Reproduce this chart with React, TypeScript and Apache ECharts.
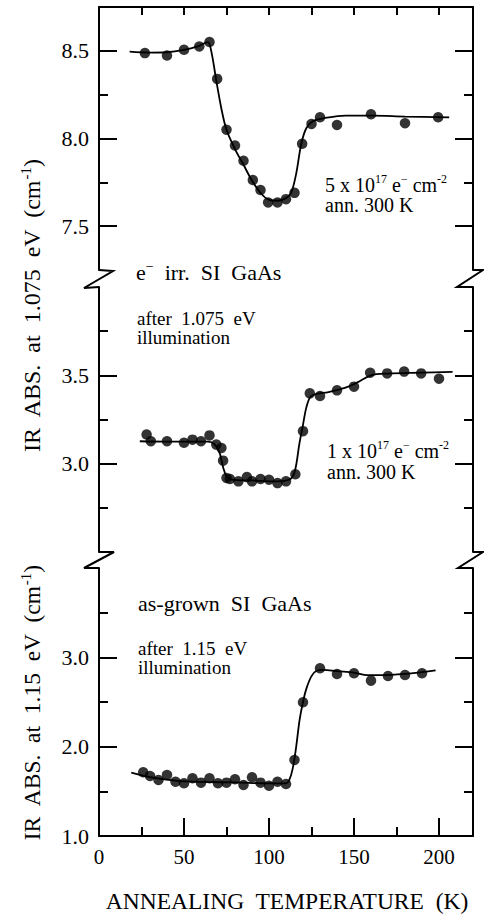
import React, { useEffect, useRef } from 'react';
import * as echarts from 'echarts';

const FONT = "'Liberation Serif', 'Times New Roman', Times, serif";

// ---- axis ticks ----
const xMajorTicks = [0, 50, 100, 150, 200];
const xMinorTicks = [25, 75, 125, 175];
const xTopTicks = [25, 50, 75, 100, 125, 150, 175, 200];

const p1LabelTicks = [7.5, 8.0, 8.5];
const p1MinorTicks = [7.75, 8.25];
const p2LabelTicks = [3.0, 3.5];
const p2MinorTicks = [2.75, 3.25, 3.75];
const p3LabelTicks = [1.0, 2.0, 3.0];
const p3MinorTicks = [1.5, 2.5, 3.5];

// ---- panel 1: e- irr. 5e17, after 1.075 eV (measured points) ----
const p1Temps = [27, 40, 50, 59, 65, 69.5, 75, 80, 85, 90.5, 95, 99.5, 105, 110, 115, 119.5, 125, 130, 140, 160, 180, 199.5];
const p1Values = [8.487, 8.473, 8.506, 8.525, 8.55, 8.34, 8.05, 7.96, 7.873, 7.763, 7.706, 7.635, 7.635, 7.654, 7.69, 7.97, 8.083, 8.121, 8.077, 8.138, 8.087, 8.121];
// fitted curve
const p1FitTemps = [18, 30, 40, 50, 58, 64, 66, 69, 72, 75, 80, 85, 90, 95, 100, 105, 110, 113, 116, 119, 122, 126, 132, 145, 160, 180, 206];
const p1FitValues = [8.495, 8.49, 8.492, 8.505, 8.525, 8.55, 8.5, 8.33, 8.17, 8.05, 7.94, 7.85, 7.76, 7.69, 7.65, 7.645, 7.66, 7.69, 7.8, 7.97, 8.06, 8.1, 8.115, 8.13, 8.13, 8.125, 8.12];

// ---- panel 2: e- irr. 1e17 ----
const p2Temps = [28, 30.5, 40, 50, 55, 60, 65, 69, 72, 73, 75, 77, 82, 87, 90, 95, 100, 105, 110, 115.5, 120, 124, 130, 140, 150, 159.5, 169.5, 179.5, 189.5, 200];
const p2Values = [3.165, 3.127, 3.127, 3.118, 3.136, 3.127, 3.16, 3.108, 3.089, 3.017, 2.919, 2.913, 2.9, 2.924, 2.9, 2.913, 2.909, 2.89, 2.9, 2.94, 3.184, 3.398, 3.383, 3.415, 3.436, 3.515, 3.511, 3.521, 3.511, 3.481];
const p2FitTemps = [24, 40, 55, 64, 68, 71, 73, 75, 78, 90, 105, 112, 115, 118, 120, 122, 124.5, 128, 135, 145, 152, 160, 170, 190, 208];
const p2FitValues = [3.127, 3.125, 3.125, 3.125, 3.11, 3.06, 2.98, 2.93, 2.91, 2.905, 2.9, 2.91, 2.95, 3.12, 3.22, 3.32, 3.38, 3.395, 3.405, 3.43, 3.46, 3.5, 3.51, 3.515, 3.52];

// ---- panel 3: as-grown, after 1.15 eV ----
const p3Temps = [26, 30, 35, 40, 45, 50, 55, 60, 65, 70, 75, 80, 85, 90, 95, 100, 105, 110, 115, 120, 130, 140, 150, 160, 170, 180, 190];
const p3Values = [1.713, 1.672, 1.627, 1.683, 1.608, 1.59, 1.646, 1.597, 1.646, 1.59, 1.597, 1.635, 1.571, 1.657, 1.597, 1.563, 1.608, 1.582, 1.851, 2.497, 2.877, 2.813, 2.821, 2.739, 2.791, 2.802, 2.821];
const p3FitTemps = [19, 30, 45, 60, 80, 100, 110, 112, 114, 116, 118, 120, 122, 125, 128, 132, 140, 150, 158, 165, 180, 198];
const p3FitValues = [1.71, 1.66, 1.62, 1.605, 1.6, 1.59, 1.59, 1.63, 1.76, 2.0, 2.3, 2.5, 2.65, 2.79, 2.85, 2.86, 2.845, 2.83, 2.8, 2.8, 2.815, 2.855];

const zip = (xs: number[], ys: number[]) => xs.map((x, i) => [x, ys[i]]);

const BLACK = '#000';

function yAxesFor(gridIndex: number, min: number, max: number, labelTicks: number[], minorTicks: number[]) {
  const base = { type: 'value', gridIndex, min, max, splitLine: { show: false } };
  const line = { show: true, lineStyle: { color: BLACK, width: 2 } };
  return [
    {
      ...base, position: 'left',
      axisLine: line,
      axisTick: { show: true, inside: true, length: 18, customValues: labelTicks, lineStyle: { color: BLACK, width: 2 } },
      axisLabel: { show: true, customValues: labelTicks, formatter: (v: number) => Number(v).toFixed(1), fontSize: 22, fontFamily: FONT, color: BLACK, margin: 10 },
    },
    {
      ...base, position: 'left',
      axisLine: { show: false },
      axisTick: { show: true, inside: true, length: 9, customValues: minorTicks, lineStyle: { color: BLACK, width: 2 } },
      axisLabel: { show: false },
    },
    {
      ...base, position: 'right',
      axisLine: line,
      axisTick: { show: true, inside: true, length: 18, customValues: labelTicks, lineStyle: { color: BLACK, width: 2 } },
      axisLabel: { show: false },
    },
    {
      ...base, position: 'right',
      axisLine: { show: false },
      axisTick: { show: true, inside: true, length: 9, customValues: minorTicks, lineStyle: { color: BLACK, width: 2 } },
      axisLabel: { show: false },
    },
  ];
}

function seriesFor(xIdx: number, yIdx: number, fx: number[], fy: number[], px: number[], py: number[]) {
  return [
    {
      type: 'line', xAxisIndex: xIdx, yAxisIndex: yIdx, data: zip(fx, fy),
      smooth: 0.35, symbol: 'none', showSymbol: false,
      lineStyle: { color: BLACK, width: 1.8 }, z: 2, silent: true,
    },
    {
      type: 'scatter', xAxisIndex: xIdx, yAxisIndex: yIdx, data: zip(px, py),
      symbol: 'circle', symbolSize: 10.5, itemStyle: { color: BLACK }, z: 3, silent: true,
    },
  ];
}

const richStyles = (size: number) => ({
  t: { fontSize: size, fontFamily: FONT, color: BLACK, lineHeight: size + 4 },
  s: { fontSize: Math.round(size * 0.62), fontFamily: FONT, color: BLACK, verticalAlign: 'top', lineHeight: Math.round(size * 0.62) },
});

function richText(x: number, y: number, text: string, size: number, extra: any = {}) {
  return {
    type: 'text', x, y, z: 10, ...extra,
    style: {
      text, rich: richStyles(size), fontSize: size, fontFamily: FONT, fill: BLACK,
      textVerticalAlign: 'middle', verticalAlign: 'middle', textAlign: extra.align || 'left', align: extra.align || 'left',
    },
  };
}

function zig(points: number[][]) {
  return { type: 'polyline', z: 10, shape: { points }, style: { stroke: BLACK, lineWidth: 2, fill: 'none', lineJoin: 'miter' } };
}

export default function App() {
  const ref = useRef<HTMLDivElement>(null);
  useEffect(() => {
    if (!ref.current) return;
    const chart = echarts.init(ref.current, undefined, { renderer: 'svg' });
    const option: any = {
      animation: false,
      backgroundColor: '#fff',
      grid: [
        { left: 99, right: 11, top: 7, height: 263 },
        { left: 99, right: 11, top: 287, height: 265 },
        { left: 99, right: 11, top: 568, height: 268 },
      ],
      xAxis: [
        {
          type: 'value', gridIndex: 0, position: 'top', min: 0, max: 220,
          axisLine: { show: true, lineStyle: { color: BLACK, width: 2 } },
          axisTick: { show: true, inside: true, length: 8, customValues: xTopTicks, lineStyle: { color: BLACK, width: 2 } },
          axisLabel: { show: false }, splitLine: { show: false },
        },
        { type: 'value', gridIndex: 1, min: 0, max: 220, show: false },
        {
          type: 'value', gridIndex: 2, position: 'bottom', min: 0, max: 220,
          axisLine: { show: true, lineStyle: { color: BLACK, width: 2 } },
          axisTick: { show: true, inside: true, length: 18, customValues: xMajorTicks.filter((v) => v > 0), lineStyle: { color: BLACK, width: 2 } },
          axisLabel: { show: true, customValues: xMajorTicks, fontSize: 21, fontFamily: FONT, color: BLACK, margin: 10 },
          splitLine: { show: false },
        },
        {
          type: 'value', gridIndex: 2, position: 'bottom', min: 0, max: 220,
          axisLine: { show: false },
          axisTick: { show: true, inside: true, length: 9, customValues: xMinorTicks, lineStyle: { color: BLACK, width: 2 } },
          axisLabel: { show: false }, splitLine: { show: false },
        },
      ],
      yAxis: [
        ...yAxesFor(0, 7.25, 8.75, p1LabelTicks, p1MinorTicks),
        ...yAxesFor(1, 2.5, 4.0, p2LabelTicks, p2MinorTicks),
        ...yAxesFor(2, 1.0, 4.0, p3LabelTicks, p3MinorTicks),
      ],
      series: [
        ...seriesFor(0, 0, p1FitTemps, p1FitValues, p1Temps, p1Values),
        ...seriesFor(1, 4, p2FitTemps, p2FitValues, p2Temps, p2Values),
        ...seriesFor(2, 8, p3FitTemps, p3FitValues, p3Temps, p3Values),
      ],
      graphic: [
        zig([[99, 270], [113, 271], [84, 288], [99, 287]]),
        zig([[473, 270], [483, 270], [457, 287], [473, 287]]),
        zig([[99, 552], [114, 552], [84, 568], [99, 568]]),
        zig([[473, 552], [483, 552], [458, 568], [473, 568]]),

        richText(325, 185, '{t|5 x 10}{s|17}{t| e}{s|−}{t| cm}{s|-2}', 20),
        richText(325, 205, '{t|ann. 300 K}', 20),
        richText(136, 272, '{t|e}{s|−}{t|  irr.  SI  GaAs}', 22),
        richText(137, 318, '{t|after  1.075  eV}', 19),
        richText(137, 337, '{t|illumination}', 19),
        richText(327, 451, '{t|1 x 10}{s|17}{t| e}{s|−}{t| cm}{s|-2}', 20),
        richText(327, 472, '{t|ann. 300 K}', 20),
        richText(138, 603, '{t|as-grown  SI  GaAs}', 22),
        richText(138, 648, '{t|after  1.15  eV}', 19),
        richText(138, 667, '{t|illumination}', 19),

        richText(287, 901, '{t|ANNEALING  TEMPERATURE  (K)}', 23.5, { align: 'center' }),
        richText(32, 306, '{t|IR  ABS.  at  1.075  eV  (cm}{s|-1}{t|)}', 24, { align: 'center', rotation: Math.PI / 2 }),
        richText(32, 703, '{t|IR  ABS.  at  1.15  eV  (cm}{s|-1}{t|)}', 23.5, { align: 'center', rotation: Math.PI / 2 }),
      ],
    };
    chart.setOption(option);
    return () => chart.dispose();
  }, []);
  return <div ref={ref} style={{ position: 'fixed', left: 0, top: 0, width: 484, height: 916 }} />;
}
